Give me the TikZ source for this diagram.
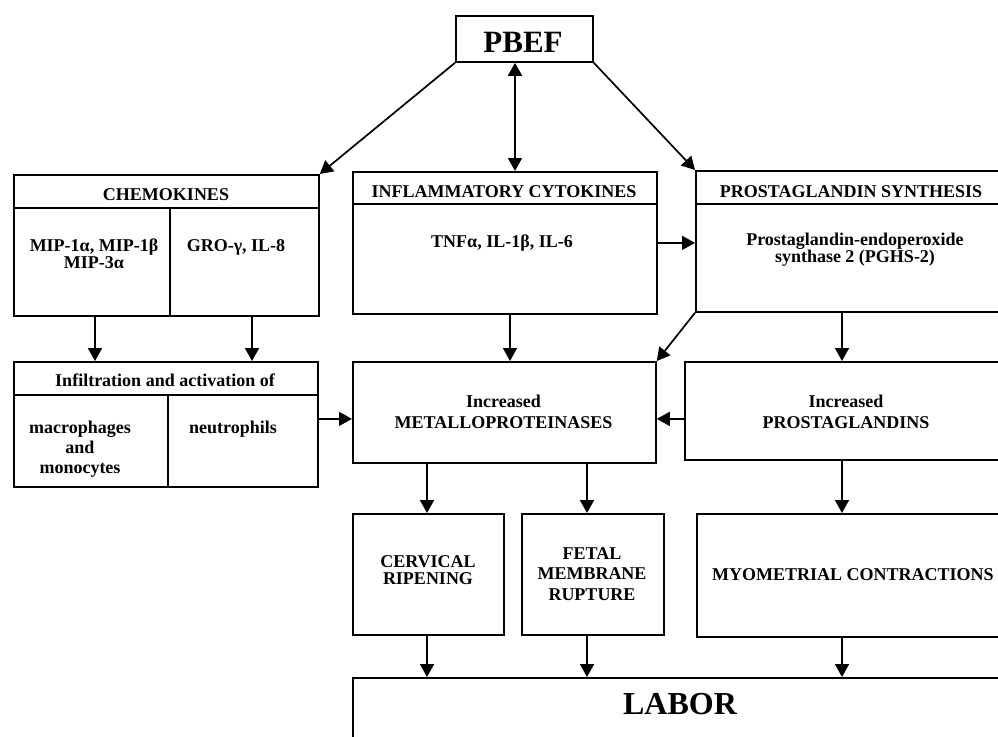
\documentclass[tikz,border=0pt]{standalone}
\usepackage{fontspec}
\setmainfont{Liberation Serif}
\usetikzlibrary{arrows.meta,calc}
\begin{document}
\begin{tikzpicture}[x=1pt,y=-1pt,
  box/.style={draw, line width=1.8pt, rectangle, anchor=north west, inner sep=0pt},
  lbl/.style={inner sep=0pt, anchor=north, align=center, font=\bfseries\fontsize{18}{20.5}\selectfont},
  arr/.style={line width=1.7pt, -{Triangle[width=14pt,length=13pt]}},
  dline/.style={line width=1.8pt}]
\useasboundingbox (0,0) rectangle (998,736);
\clip (0,0) rectangle (998,736);

% boxes
\node[box, minimum width=137pt, minimum height=46pt] (pbef) at (455,15) {};
\node[box, minimum width=305pt, minimum height=141pt] (chem) at (13,174) {};
\node[box, minimum width=304pt, minimum height=142pt] (cyto) at (352,171) {};
\node[box, minimum width=320pt, minimum height=141pt] (pghs) at (695,170) {};
\node[box, minimum width=304pt, minimum height=125pt] (infil) at (13,361) {};
\node[box, minimum width=303pt, minimum height=101pt] (metallo) at (352,361) {};
\node[box, minimum width=330pt, minimum height=98pt] (prost) at (684,361) {};
\node[box, minimum width=151pt, minimum height=121pt] (cerv) at (352,513) {};
\node[box, minimum width=142pt, minimum height=121pt] (fetal) at (521,513) {};
\node[box, minimum width=320pt, minimum height=123pt] (myo) at (696,513) {};
\node[box, minimum width=660pt, minimum height=90pt] (labor) at (352,677) {};

% dividers
\coordinate (chL) at ([yshift=-34pt]chem.north west);
\coordinate (chR) at ([yshift=-34pt]chem.north east);
\draw[dline] (chL) -- (chR);
\coordinate (chV) at ([xshift=157pt]chem.south west);
\draw[dline] (chV) -- (chV |- chL);
\coordinate (cyL) at ([yshift=-33pt]cyto.north west);
\coordinate (cyR) at ([yshift=-33pt]cyto.north east);
\draw[dline] (cyL) -- (cyR);
\coordinate (pgL) at ([yshift=-34pt]pghs.north west);
\coordinate (pgR) at ([yshift=-34pt]pghs.north east);
\draw[dline] (pgL) -- (pgR);
\coordinate (inL) at ([yshift=-34pt]infil.north west);
\coordinate (inR) at ([yshift=-34pt]infil.north east);
\draw[dline] (inL) -- (inR);
\coordinate (inV) at ([xshift=155pt]infil.south west);
\draw[dline] (inV) -- (inV |- inL);

% texts
\node[lbl, font=\bfseries\fontsize{31}{34}\selectfont] (tpbef) at (523,32) {PBEF};
\node[lbl] (tchem) at (166,188) {CHEMOKINES};
\node[lbl, font=\bfseries\fontsize{18}{15.5}\selectfont] (tmip) at (94,239) {MIP-1α, MIP-1β\\MIP-3α};
\node[lbl] (tgro) at (236,239) {GRO-γ, IL-8};
\node[lbl] (tcyto) at (504,185) {INFLAMMATORY CYTOKINES};
\node[lbl] (ttnf) at (502,235) {TNFα, IL-1β, IL-6};
\node[lbl] (tpghs) at (851,185) {PROSTAGLANDIN SYNTHESIS};
\node[lbl, font=\bfseries\fontsize{18}{16.5}\selectfont] (tpgh2) at (855,233) {Prostaglandin-endoperoxide\\synthase 2 (PGHS-2)};
\node[lbl] (tinfil) at (165,374) {Infiltration and activation of};
\node[lbl, font=\bfseries\fontsize{18}{20}\selectfont] (tmac) at (80,421) {macrophages\\and\\monocytes};
\node[lbl] (tneu) at (233,421) {neutrophils};
\node[lbl] (tmet) at (503.5,395) {Increased\\METALLOPROTEINASES};
\node[lbl] (tpro) at (846,395) {Increased\\PROSTAGLANDINS};
\node[lbl, font=\bfseries\fontsize{18}{17.5}\selectfont] (tcerv) at (428,555) {CERVICAL\\RIPENING};
\node[lbl] (tfetal) at (592,547) {FETAL\\MEMBRANE\\RUPTURE};
\node[lbl] (tmyo) at (853,568) {MYOMETRIAL CONTRACTIONS};
\node[lbl, font=\bfseries\fontsize{32}{36}\selectfont] (tlabor) at (680,693) {LABOR};

% arrows
\draw[arr] (pbef.south west) -- (chem.north east);
\coordinate (pb2) at ([xshift=60pt]pbef.south west);
\draw[line width=1.7pt, {Triangle[width=14pt,length=13pt]}-{Triangle[width=14pt,length=13pt]}] (pb2) -- (pb2 |- cyto.north);
\draw[arr] (pbef.south east) -- (pghs.north west);
\coordinate (c1) at ([xshift=82pt]chem.south west);
\draw[arr] (c1) -- (c1 |- infil.north);
\coordinate (c2) at ([xshift=239pt]chem.south west);
\draw[arr] (c2) -- (c2 |- infil.north);
\coordinate (cy1) at ([xshift=158pt]cyto.south west);
\draw[arr] (cy1) -- (cy1 |- metallo.north);
\draw[arr] (cyto.east) -- (cyto.east -| pghs.west);
\draw[arr] (pghs.south west) -- (metallo.north east);
\coordinate (pg1) at ([xshift=147pt]pghs.south west);
\draw[arr] (pg1) -- (pg1 |- prost.north);
\coordinate (mleft) at ([yshift=-6.5pt]metallo.west);
\draw[arr] (infil.east |- mleft) -- (mleft);
\coordinate (mright) at ([yshift=-6.5pt]metallo.east);
\draw[arr] (prost.west |- mright) -- (mright);
\coordinate (m1) at ([xshift=75pt]metallo.south west);
\draw[arr] (m1) -- (m1 |- cerv.north);
\coordinate (m2) at ([xshift=235pt]metallo.south west);
\draw[arr] (m2) -- (m2 |- fetal.north);
\coordinate (p1) at ([xshift=158pt]prost.south west);
\draw[arr] (p1) -- (p1 |- myo.north);
\coordinate (cv1) at ([xshift=75pt]cerv.south west);
\draw[arr] (cv1) -- (cv1 |- labor.north);
\coordinate (f1) at ([xshift=66pt]fetal.south west);
\draw[arr] (f1) -- (f1 |- labor.north);
\coordinate (y1) at ([xshift=146pt]myo.south west);
\draw[arr] (y1) -- (y1 |- labor.north);
\end{tikzpicture}
\end{document}
